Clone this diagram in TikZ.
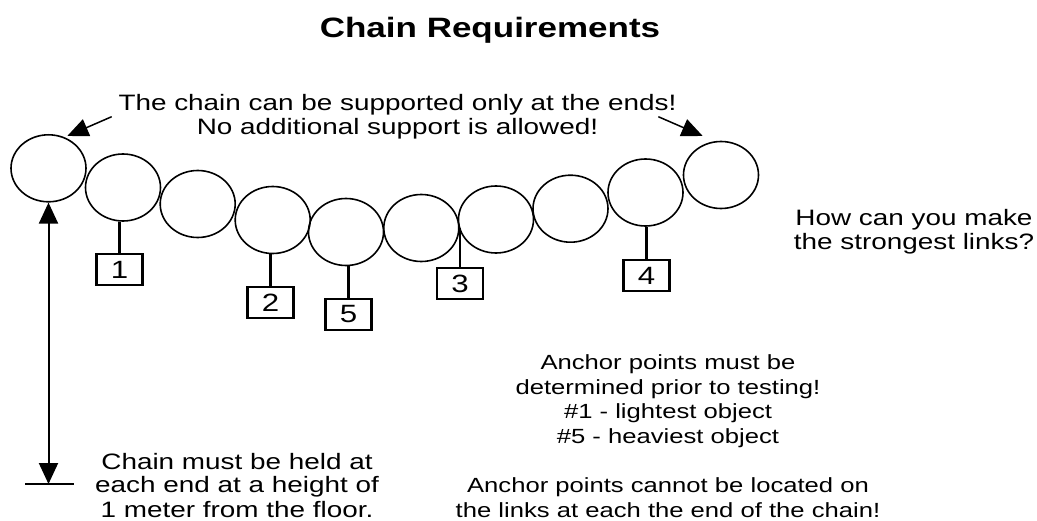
\documentclass[tikz,border=0pt]{standalone}
\usepackage{fontspec}
\setmainfont{Liberation Sans}[FakeStretch=1.25]
\usetikzlibrary{arrows.meta,shapes.geometric}

\begin{document}
\begin{tikzpicture}[x=1pt,y=-1pt,
  link/.style={ellipse, draw, line width=1.6pt, minimum width=75pt, minimum height=67pt, inner sep=0pt},
  weight/.style={draw, line width=2.2pt, minimum width=46pt, minimum height=31pt, inner sep=0pt,
    font=\fontsize{25}{26}\selectfont},
  hanger/.style={line width=2.2pt},
  % multi-line notes are placed by the baseline of their last line
  note/.style={align=center, inner sep=0pt, anchor=base, font=\fontsize{22.3}{24}\selectfont},
  smallnote/.style={align=center, inner sep=0pt, anchor=base, font=\fontsize{20.5}{24.6}\selectfont},
  pointer/.style={line width=1.5pt, -{Triangle[length=21pt,width=18pt]}},
  dimarrow/.style={line width=2pt, {Triangle[length=21pt,width=19pt]}-{Triangle[length=21pt,width=19pt]}},
]
\fill[white] (0,0) rectangle (1037,521);
\useasboundingbox (0,0) rectangle (1037,521);

% title
\node[note, font=\bfseries\fontsize{28}{30}\selectfont] (title) at (490,38) {Chain Requirements};

% the chain links
\node[link] (c0) at (48.5,168.3) {};
\node[link] (c1) at (123,187.5) {};
\node[link] (c2) at (197.7,204) {};
\node[link] (c3) at (272.7,220) {};
\node[link] (c4) at (346,232) {};
\node[link] (c5) at (421.3,228) {};
\node[link] (c6) at (496,219.5) {};
\node[link] (c7) at (570.5,208.7) {};
\node[link] (c8) at (645.5,192.5) {};
\node[link] (c9) at (721,175) {};

% weights hanging from the anchor points
\node[weight] (w1) at (119.5,269.5) {1};
\node[weight] (w2) at (270.5,302.8) {2};
\node[weight] (w5) at (348.5,314.5) {5};
\node[weight] (w3) at (460,283.8) {3};
\node[weight] (w4) at (646.5,275.5) {4};

\draw[hanger] (w1.north) -- (w1.north |- c1.south);
\draw[hanger] (w2.north) -- (w2.north |- c3.south);
\draw[hanger] (w5.north) -- (w5.north |- c4.south);
\draw[hanger] (w3.north) -- (w3.north |- c5.east);
\draw[hanger] (w4.north) -- (w4.north |- c8.south);

% supports at the ends
\node[note] (support) at (397.5,135) {The chain can be supported only at the ends!\\No additional support is allowed!};
\coordinate (lfrom) at (111.7,116.7);
\coordinate (lto) at (67.3,136);
\coordinate (rfrom) at (658.3,116.7);
\coordinate (rto) at (702.7,136);
\draw[pointer] (lfrom) -- (lto);
\draw[pointer] (rfrom) -- (rto);

% height above the floor
\coordinate (floor) at (48.5,484);
\coordinate (floorL) at (25,484);
\coordinate (floorR) at (74,484);
\draw[dimarrow] (c0.south) -- (floor);
\draw[line width=2pt] (floorL) -- (floorR);
\node[note] (height) at (237,517) {Chain must be held at\\each end at a height of\\1 meter from the floor.};

\node[note] (question) at (914,250) {How can you make\\the strongest links?};

\node[smallnote] (anchors) at (668,517) {Anchor points must be\\determined prior to testing!\\\#1 - lightest object\\\#5 - heaviest object\\[24.6pt]Anchor points cannot be located on\\the links at each the end of the chain!};
\end{tikzpicture}
\end{document}
